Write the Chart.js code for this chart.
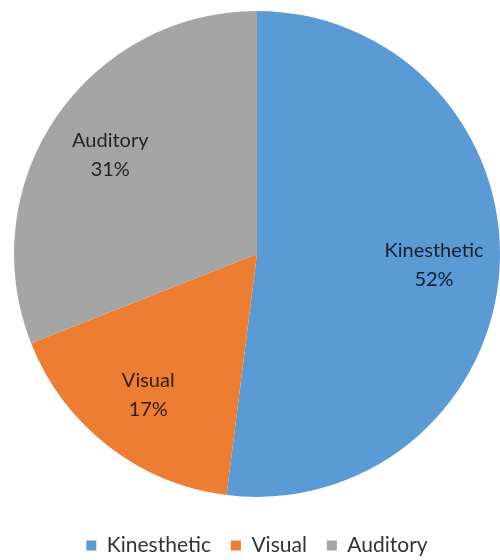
<!DOCTYPE html>
<html>
<head>
<meta charset="utf-8">
<script src="https://cdn.jsdelivr.net/npm/chart.js@4"></script>
<style>
  html, body { margin: 0; padding: 0; background: #fff; overflow: hidden; }
  #wrap { width: 500px; height: 560px; overflow: hidden; }
</style>
</head>
<body>
<div id="wrap"><canvas id="pieChart" width="500" height="566"></canvas></div>
<script>
const styles = ['Kinesthetic', 'Visual', 'Auditory'];
const shares = [52, 17, 31];
const sliceColors = ['#5b9bd5', '#ed7d31', '#a5a5a5'];

// draws "Name\nNN%" inside each slice, most of the way out
const sliceLabels = {
    id: 'sliceLabels',
    afterDatasetsDraw(chart) {
        const ctx = chart.ctx;
        const meta = chart.getDatasetMeta(0);
        ctx.save();
        ctx.font = '20px Lato';
        ctx.fillStyle = 'rgba(0, 0, 0, 0.8)';
        ctx.textAlign = 'center';
        ctx.textBaseline = 'middle';
        meta.data.forEach((arc, i) => {
            const p = arc.getProps(['x', 'y', 'startAngle', 'endAngle', 'outerRadius'], true);
            const mid = (p.startAngle + p.endAngle) / 2;
            const r = p.outerRadius * 0.73;
            const x = p.x + Math.cos(mid) * r;
            const y = p.y + Math.sin(mid) * r;
            ctx.fillText(styles[i], x, y - 14);
            ctx.fillText(shares[i] + '%', x, y + 15);
        });
        ctx.restore();
    }
};

const ctx = document.getElementById('pieChart').getContext('2d');
const myChart = new Chart(ctx, {
    type: 'pie',
    data: {
        labels: styles,
        datasets: [{
            data: shares,
            backgroundColor: sliceColors,
            borderWidth: 0
        }]
    },
    options: {
        responsive: false,
        animation: false,
        layout: {
            padding: { top: 10, left: 14, right: 0, bottom: 0 }
        },
        plugins: {
            tooltip: { enabled: false },
            legend: {
                position: 'bottom',
                title: {
                    display: true,
                    text: ' ',
                    padding: 2,
                    font: { size: 11 }
                },
                labels: {
                    boxWidth: 10,
                    boxHeight: 10,
                    padding: 20,
                    color: '#333',
                    font: { family: 'Lato', size: 21 }
                }
            }
        }
    },
    plugins: [sliceLabels]
});
</script>
</body>
</html>
